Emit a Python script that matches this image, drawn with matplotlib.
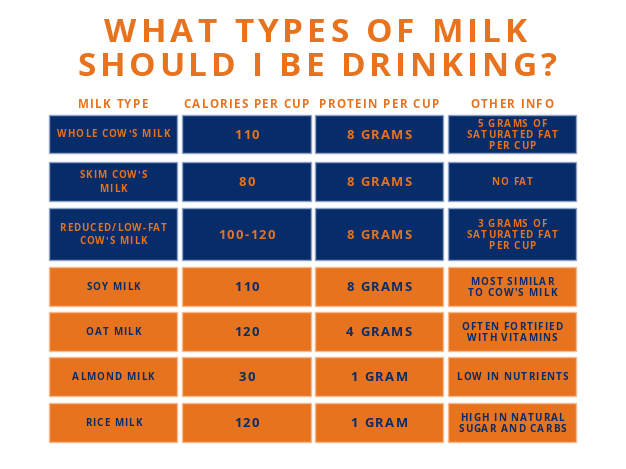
import matplotlib
matplotlib.use("Agg")
from matplotlib import pyplot as plt
from matplotlib.patches import Rectangle
from matplotlib.font_manager import FontProperties, findfont
from matplotlib.ft2font import FT2Font

navy = "#062c69"
orange = "#e8731e"

title_lines = ["WHAT TYPES OF MILK", "SHOULD I BE DRINKING?"]
headers = ["MILK TYPE", "CALORIES PER CUP", "PROTEIN PER CUP", "OTHER INFO"]
milk_types = ["WHOLE COW'S MILK", "SKIM COW'S\nMILK", "REDUCED/LOW-FAT\nCOW'S MILK",
              "SOY MILK", "OAT MILK", "ALMOND MILK", "RICE MILK"]
calories = ["110", "80", "100-120", "110", "120", "30", "120"]
protein = ["8 GRAMS", "8 GRAMS", "8 GRAMS", "8 GRAMS", "4 GRAMS", "1 GRAM", "1 GRAM"]
other_info = ["5 GRAMS OF\nSATURATED FAT\nPER CUP", "NO FAT", "3 GRAMS OF\nSATURATED FAT\nPER CUP",
              "MOST SIMILAR\nTO COW'S MILK", "OFTEN FORTIFIED\nWITH VITAMINS",
              "LOW IN NUTRIENTS", "HIGH IN NATURAL\nSUGAR AND CARBS"]
dairy = [True, True, True, False, False, False, False]

col_x = [(49, 177), (182, 311), (315, 443), (448, 576)]
row_y = [(115, 153), (162, 201), (208, 260), (267, 306), (312, 351), (357, 396), (403, 442)]

DPI = 100
fig = plt.figure(figsize=(6.26, 4.69), dpi=DPI)
ax = fig.add_axes([0, 0, 1, 1])
ax.set_xlim(0, 626)
ax.set_ylim(469, 0)
ax.axis("off")

family = "Open Sans"
ft = FT2Font(findfont(FontProperties(family=family, weight="bold")))


def advances(s, size):
    # glyph advance widths in pixels
    ft.set_size(size, 72)
    out = []
    for c in s:
        g = ft.load_char(ord(c))
        out.append(g.linearHoriAdvance / 65536 * DPI / 72)
    return out


def spaced(x, y, s, size, color, track=0.11):
    # matplotlib has no letter-spacing, so place the letters one by one
    em = size * DPI / 72
    adv = advances(s, size)
    gap = track * em
    total = sum(adv) + gap * (len(s) - 1)
    cx = x - total / 2
    for c, a in zip(s, adv):
        if c != " ":
            ax.text(cx + a / 2, y, c, ha="center", va="baseline", fontsize=size,
                    fontweight="bold", color=color, family=family)
        cx += a + gap


def block(x, y, s, size, color, pitch, track=0.11):
    lines = s.split("\n")
    cap = 0.714 * size * DPI / 72
    for k, line in enumerate(lines):
        base = y + cap / 2 + (k - (len(lines) - 1) / 2) * pitch
        spaced(x, base, line, size, color, track)


spaced(316, 42, title_lines[0], 24, orange, 0.125)
spaced(317, 76, title_lines[1], 24, orange, 0.115)

for (x0, x1), h in zip(col_x, headers):
    spaced((x0 + x1) / 2, 108, h, 8.4, orange, 0.11)

columns = [milk_types, calories, protein, other_info]
sizes = [7.0, 9.4, 9.4, 7.1]
pitches = [13.3, 13.3, 13.3, 11.0]
for i, (y0, y1) in enumerate(row_y):
    fill = navy if dairy[i] else orange
    edge = "#8fa3c8" if dairy[i] else "#f5b98c"
    txt = orange if dairy[i] else navy
    for j, (x0, x1) in enumerate(col_x):
        ax.add_patch(Rectangle((x0, y0), x1 - x0, y1 - y0, facecolor=fill,
                               edgecolor=edge, linewidth=1))
        block((x0 + x1) / 2, (y0 + y1) / 2, columns[j][i], sizes[j], txt, pitches[j])

fig.savefig("out.png", dpi=DPI)
